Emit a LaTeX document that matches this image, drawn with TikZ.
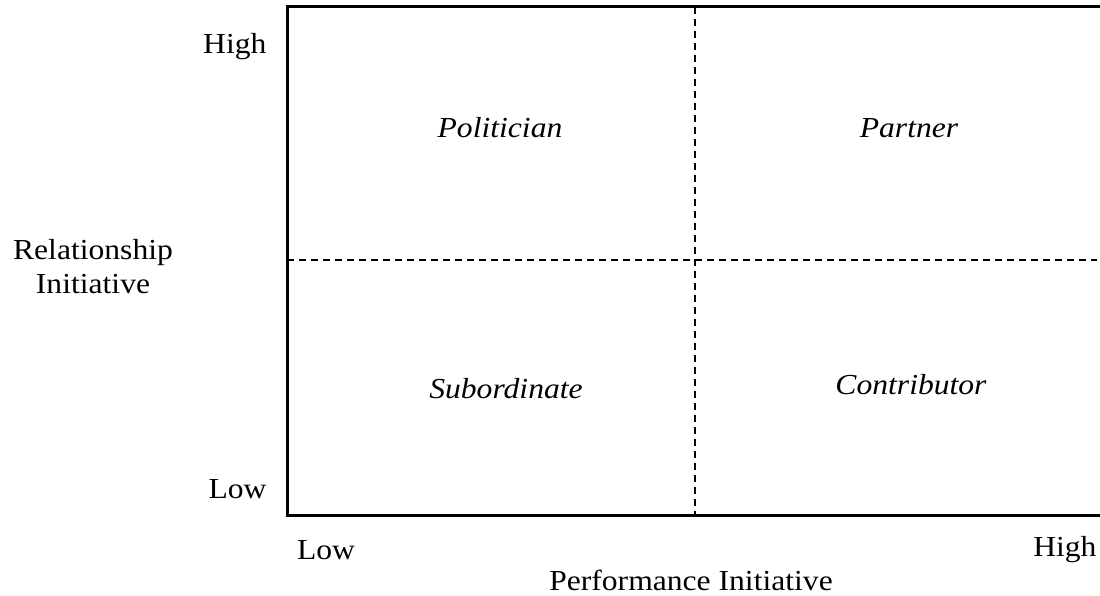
\documentclass[tikz,border=0pt]{standalone}
\usepackage{fontspec}
\setmainfont[FakeStretch=1.09]{Liberation Serif}
\usetikzlibrary{positioning}

\begin{document}
\begin{tikzpicture}[x=1pt,y=-1pt,every node/.style={align=center,font=\fontsize{29}{34}\selectfont},
  quad/.style={font=\fontsize{29}{34}\selectfont\itshape},
  grid/.style={line width=1.4pt,dash pattern=on 7pt off 5pt}]
\useasboundingbox (0,0) rectangle (1100,596);
\coordinate (tl) at (287,7);
\coordinate (bl) at (287,515);
\coordinate (tr) at (1100,7);
\coordinate (br) at (1100,515);
\coordinate (mt) at (695,7);
\coordinate (mb) at (695,515);
\coordinate (ml) at (287,260);
\coordinate (mr) at (1097,260);
\draw[line width=3pt] (tr) -- (tl) -- (bl) -- (br);
\draw[grid] (mt) -- (mb);
\draw[grid] (ml) -- (mr);
% quadrants
\node[quad] (pol) at (500,128) {Politician};
\node[quad] (par) at (909,128) {Partner};
\node[quad] (sub) at (506,389) {Subordinate};
\node[quad] (con) at (911,385) {Contributor};
% axes
\node[anchor=east] (yhigh) at (270,47) {High};
\node[anchor=east] (ylow) at (270,489) {Low};
\node (ylab) at (93,267) {Relationship\\Initiative};
\node (xlow) at (326,550) {Low};
\node[anchor=east] (xhigh) at (1100,550) {High};
\node (xlab) at (691,580) {Performance Initiative};
\end{tikzpicture}
\end{document}
